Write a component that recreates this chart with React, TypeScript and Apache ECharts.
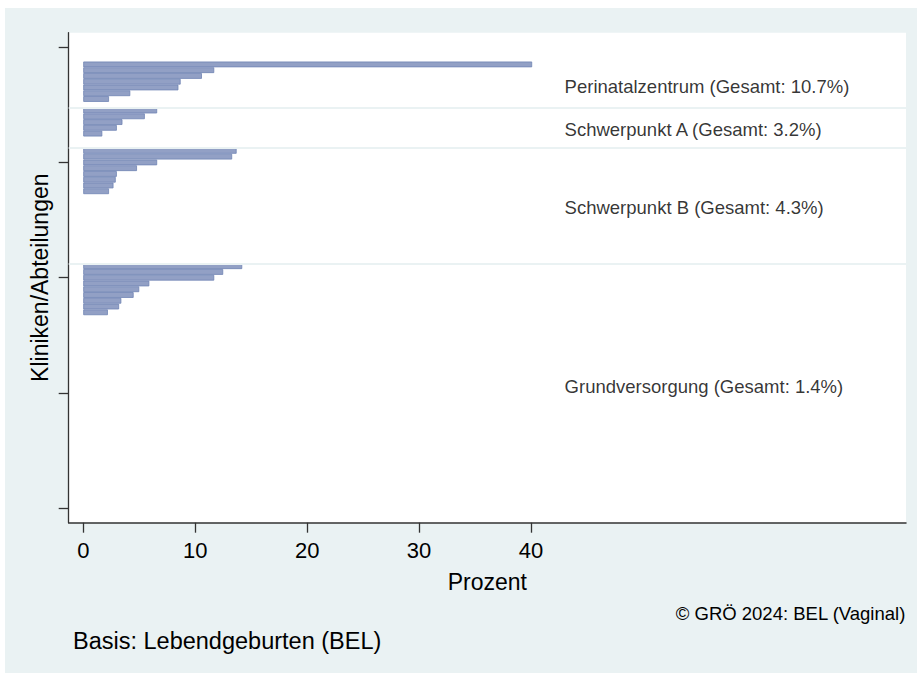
import React, { useEffect, useRef } from "react";
import * as echarts from "echarts";

// ---- data ----
const groupNames = ["Perinatalzentrum", "Schwerpunkt A", "Schwerpunkt B", "Grundversorgung"];
const groupTotals = [10.7, 3.2, 4.3, 1.4];

// Percent per clinic, sorted within each group (0 = clinic without a bar)
const perinatalValues = [40.1, 11.7, 10.6, 8.7, 8.5, 4.2, 2.3, 0];
const schwerpunktAValues = [6.6, 5.5, 3.5, 3.0, 1.7, 0, 0];
const schwerpunktBValues = [13.7, 13.3, 6.6, 4.8, 3.0, 2.9, 2.7, 2.3, 0, 0, 0, 0, 0, 0, 0, 0, 0, 0, 0, 0];
const grundversorgungValues = [
  14.2, 12.5, 11.7, 5.9, 5.0, 4.5, 3.4, 3.2, 2.2,
  0, 0, 0, 0, 0, 0, 0, 0, 0, 0, 0, 0, 0, 0, 0, 0, 0,
  0, 0, 0, 0, 0, 0, 0, 0, 0, 0, 0, 0, 0, 0, 0, 0,
];
const groupValues = [perinatalValues, schwerpunktAValues, schwerpunktBValues, grundversorgungValues];

const firstClinicPosition = 3;
const yAxisRange = [-2, 82];
const yTicks = [0, 20, 40, 60, 80];
const xTicks = [0, 10, 20, 30, 40];
const xRange = [-1.3, 73.5];
const labelX = 43;

const FONT = "'Liberation Sans', Arial, Helvetica, sans-serif";

export default function App() {
  const ref = useRef<HTMLDivElement>(null);

  useEffect(() => {
    if (!ref.current) return;
    const chart = echarts.init(ref.current, undefined, { renderer: "svg" });

    // categories (clinic positions)
    const cats: string[] = [];
    for (let p = yAxisRange[0]; p <= yAxisRange[1]; p++) cats.push(String(p));
    const barData: (number | string)[] = cats.map(() => "-");

    const labelData: [number, number, string][] = [];
    const separators: number[] = [];
    let pos = firstClinicPosition;
    groupValues.forEach((vals, gi) => {
      const start = pos;
      vals.forEach((v) => {
        if (v > 0) barData[pos - yAxisRange[0]] = v;
        pos++;
      });
      const end = pos - 1;
      labelData.push([labelX, (start + end) / 2, `${groupNames[gi]} (Gesamt: ${groupTotals[gi].toFixed(1)}%)`]);
      if (gi < groupValues.length - 1) separators.push(end + 0.5);
    });

    const axisColor = "#333333";

    chart.setOption({
      animation: false,
      backgroundColor: "#eaf2f3",
      textStyle: { fontFamily: FONT },
      title: [
        {
          text: "© GRÖ 2024: BEL (Vaginal)",
          right: 11,
          top: 596,
          padding: 0,
          textStyle: { fontFamily: FONT, fontWeight: "normal", fontSize: 18.5, color: "#000" },
        },
        {
          text: "Basis: Lebendgeburten (BEL)",
          left: 68,
          top: 621,
          padding: 0,
          textStyle: { fontFamily: FONT, fontWeight: "normal", fontSize: 23.5, color: "#000" },
        },
      ],
      grid: {
        left: 63.7,
        top: 24.7,
        right: 11,
        bottom: 150.3,
        show: true,
        backgroundColor: "#ffffff",
        borderWidth: 0,
        containLabel: false,
      },
      xAxis: {
        type: "value",
        min: xRange[0],
        max: xRange[1],
        name: "Prozent",
        nameLocation: "middle",
        nameGap: 48,
        nameTextStyle: { fontFamily: FONT, fontSize: 23, color: "#000" },
        axisLine: { show: true, onZero: false, lineStyle: { color: axisColor, width: 1.5 } },
        axisTick: { show: true, customValues: xTicks, length: 10, lineStyle: { color: axisColor, width: 1.3 } },
        axisLabel: { show: true, customValues: xTicks, margin: 17, fontFamily: FONT, fontSize: 22, color: "#000" },
        splitLine: { show: false },
      },
      yAxis: [
        {
          type: "category",
          data: cats,
          inverse: true,
          show: false,
          axisLine: { onZero: false },
        },
        {
          type: "value",
          min: yAxisRange[0] - 0.5,
          max: yAxisRange[1] + 0.5,
          inverse: true,
          position: "left",
          name: "Kliniken/Abteilungen",
          nameLocation: "middle",
          nameGap: 17,
          nameTextStyle: { fontFamily: FONT, fontSize: 23, color: "#000" },
          axisLine: { show: true, onZero: false, lineStyle: { color: axisColor, width: 1.3 } },
          axisTick: { show: true, customValues: yTicks, length: 10, lineStyle: { color: axisColor, width: 1.3 } },
          axisLabel: { show: false },
          splitLine: { show: false },
        },
      ],
      series: [
        {
          type: "bar",
          xAxisIndex: 0,
          yAxisIndex: 0,
          data: barData,
          barWidth: "100%",
          itemStyle: { color: "#92a0c5", borderColor: "#7084b4", borderWidth: 0.8 },
          emphasis: { disabled: true },
          silent: true,
        },
        {
          type: "scatter",
          xAxisIndex: 0,
          yAxisIndex: 1,
          data: labelData,
          symbolSize: 0,
          silent: true,
          label: {
            show: true,
            position: "right",
            distance: 0,
            offset: [0, 2],
            formatter: (p: any) => p.data[2],
            fontFamily: FONT,
            fontSize: 18.5,
            color: "#000",
          },
          markLine: {
            silent: true,
            symbol: ["none", "none"],
            label: { show: false },
            lineStyle: { color: "#eaf2f3", width: 2, type: "solid" },
            data: separators.map((s) => ({ yAxis: s })),
          },
        },
      ],
    });

    return () => chart.dispose();
  }, []);

  return (
    <div
      ref={ref}
      style={{ position: "absolute", left: 5, top: 8, width: 912, height: 665 }}
    />
  );
}
